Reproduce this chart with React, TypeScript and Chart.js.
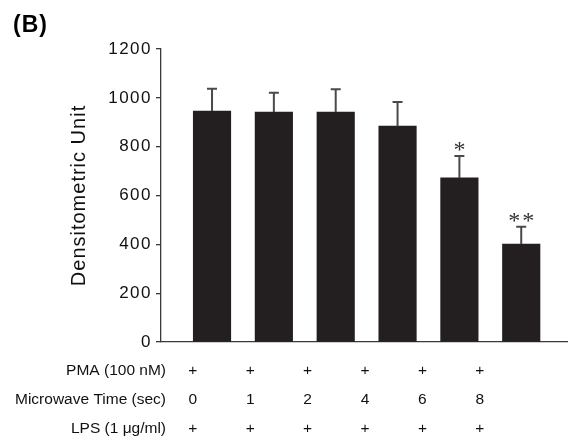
import React, { useEffect, useRef } from "react";
import { Chart, registerables } from "chart.js";

Chart.register(...registerables);

// ---- data ----
const microwaveTimes = ["0", "1", "2", "4", "6", "8"];
const pmaRow = ["+", "+", "+", "+", "+", "+"];
const lpsRow = ["+", "+", "+", "+", "+", "+"];
const rowLabels = ["PMA (100 nM)", "Microwave Time (sec)", "LPS (1 \u03bcg/ml)"];
const means = [946, 942, 942, 884, 672, 401];
const errors = [91, 79, 93, 99, 90, 71];
const significance = ["", "", "", "", "*", "**"];
const yMin = 0;
const yMax = 1200;
const yStep = 200;
const yTitle = "Densitometric Unit";
const panelLabel = "(B)";

// ---- style / layout constants ----
const W = 568;
const H = 441;
const BAR_COLOR = "#231f20";
const AXIS_COLOR = "#3a3a3a";
const ERR_COLOR = "#4a4a4a";
const X_MIN = -0.825;
const X_MAX = 5.74;
const LABEL_START = -0.31; // label column positions in x-scale units
const LABEL_STEP = 0.928;
const ROW_BASELINES = [375, 404, 433];

const overlayPlugin = {
  id: "overlay",
  beforeDraw(chart: any) {
    chart.ctx.letterSpacing = "1.5px";
  },
  afterDatasetsDraw(chart: any) {
    const ctx = chart.ctx;
    const yScale = chart.scales.y;
    const meta = chart.getDatasetMeta(0);
    ctx.save();
    meta.data.forEach((el: any, i: number) => {
      const x = el.x;
      const yTop = yScale.getPixelForValue(means[i] + errors[i]);
      const yBar = yScale.getPixelForValue(means[i]);
      ctx.strokeStyle = ERR_COLOR;
      ctx.lineWidth = 2;
      ctx.beginPath();
      ctx.moveTo(x, yBar);
      ctx.lineTo(x, yTop);
      ctx.moveTo(x - 5, yTop);
      ctx.lineTo(x + 5, yTop);
      ctx.stroke();
      if (significance[i]) {
        ctx.fillStyle = "#333";
        ctx.font = "24px 'Liberation Serif', serif";
        ctx.letterSpacing = "2px";
        ctx.textAlign = "center";
        ctx.textBaseline = "alphabetic";
        ctx.fillText(significance[i], x + 1, yTop + 1);
      }
    });
    ctx.restore();
  },
  afterDraw(chart: any) {
    const ctx = chart.ctx;
    const xScale = chart.scales.x;
    ctx.save();
    ctx.letterSpacing = "0px";
    ctx.fillStyle = "#111";
    ctx.font = "15.5px 'Liberation Sans', Arial, sans-serif";
    ctx.textBaseline = "alphabetic";
    // row labels
    ctx.textAlign = "right";
    rowLabels.forEach((t, r) => ctx.fillText(t, 166, ROW_BASELINES[r]));
    // row values
    ctx.textAlign = "center";
    const rows = [pmaRow, microwaveTimes, lpsRow];
    rows.forEach((row, r) => {
      row.forEach((v, i) => {
        const x = xScale.getPixelForValue(LABEL_START + i * LABEL_STEP);
        ctx.fillText(v, x, ROW_BASELINES[r]);
      });
    });
    // y title
    const area = chart.chartArea;
    ctx.save();
    ctx.translate(85, (area.top + area.bottom) / 2);
    ctx.rotate(-Math.PI / 2);
    ctx.font = "20px 'Liberation Sans', Arial, sans-serif";
    ctx.letterSpacing = "1px";
    ctx.textAlign = "center";
    ctx.fillText(yTitle, 0, 0);
    ctx.restore();
    // panel label
    ctx.font = "bold 23px 'Liberation Sans', Arial, sans-serif";
    ctx.letterSpacing = "1px";
    ctx.textAlign = "left";
    ctx.fillStyle = "#000";
    ctx.fillText(panelLabel, 13, 32);
    ctx.restore();
  },
};

export default function App() {
  const canvasRef = useRef<HTMLCanvasElement | null>(null);

  useEffect(() => {
    const canvas = canvasRef.current;
    if (!canvas) return;
    const chart = new Chart(canvas, {
      type: "bar",
      data: {
        datasets: [
          {
            data: means.map((v, i) => ({ x: i, y: v })),
            backgroundColor: BAR_COLOR,
            borderWidth: 0,
            barThickness: 37.5,
          },
        ],
      },
      options: {
        animation: false,
        responsive: false,
        devicePixelRatio: 1,
        layout: { padding: { top: 49, right: 1, bottom: 0, left: 0 } },
        plugins: {
          legend: { display: false },
          tooltip: { enabled: false },
          title: { display: false },
        },
        scales: {
          x: {
            type: "linear",
            offset: false,
            min: X_MIN,
            max: X_MAX,
            grid: { display: false, offset: false },
            ticks: { display: false },
            border: { display: true, color: AXIS_COLOR, width: 1.3 },
            afterFit: (s: any) => {
              s.height = 99;
            },
          },
          y: {
            min: yMin,
            max: yMax,
            ticks: {
              stepSize: yStep,
              padding: 4,
              color: "#111",
              font: { family: "'Liberation Sans', Arial, sans-serif", size: 17 },
              callback: (v: any) => String(v),
            },
            grid: {
              display: true,
              drawOnChartArea: false,
              drawTicks: true,
              tickLength: 5,
              color: AXIS_COLOR,
              lineWidth: 1.3,
            },
            border: { display: true, color: AXIS_COLOR, width: 1.3 },
            afterFit: (s: any) => {
              s.width = 161;
            },
          },
        },
      },
      plugins: [overlayPlugin],
    });
    return () => chart.destroy();
  }, []);

  return (
    <div style={{ position: "fixed", left: 0, top: 0, width: W, height: H, background: "#fff" }}>
      <canvas ref={canvasRef} width={W} height={H} style={{ display: "block" }} />
    </div>
  );
}
